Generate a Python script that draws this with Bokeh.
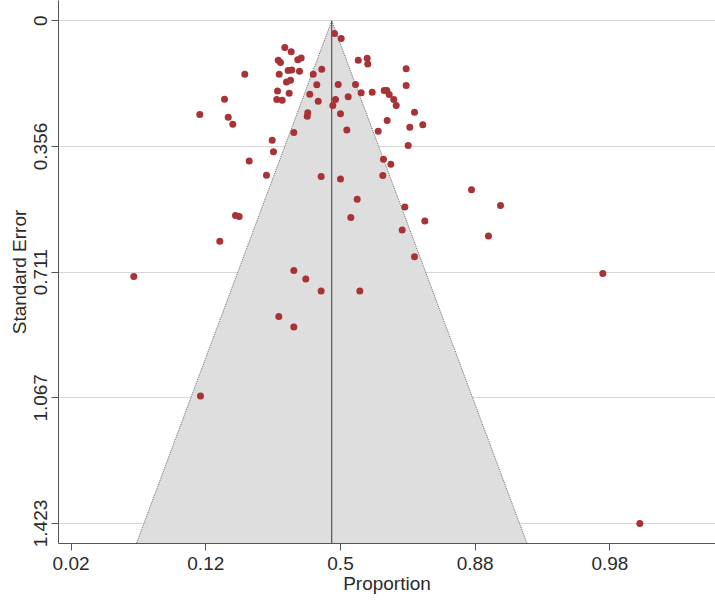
from bokeh.plotting import figure
from bokeh.models import Range1d, FixedTicker, ColumnDataSource
from bokeh.embed import file_html
from bokeh.resources import INLINE

# Study estimates (logit of proportion) and their standard errors
logit_prop = [
    -0.827, -0.732, -0.925, -0.891, -0.634, -0.584, -1.421, -0.910, -0.777, -0.723,
    -0.609, -0.405, -0.278, -0.802, -0.742, -0.352, -1.722, -0.935, -0.762, -0.456,
    -0.946, -0.866, -0.331, -2.089, -1.667, -1.599, -0.486, -0.494, -0.693, -0.089,
    0.010, 0.263, 0.396, 0.405, 0.975, -0.034, 0.223, 0.975, -0.074, 0.114,
    0.307, 0.471, 0.649, 0.687, 0.723, 0.791, 0.827, -0.114, 0.000, 1.099,
    0.693, 1.029, 1.222, 0.094, 0.560, -1.014, -0.995, -1.356, -1.099, -0.287,
    -1.559, -1.504, -1.792, 1.005, 0.638, 0.747, 0.628, 0.000, 0.248, 0.153,
    0.955, 1.252, 0.916, 1.945, 2.376, 2.197, 1.099, 0.287, 3.895, -3.069,
    -0.693, -0.515, -0.287, -0.916, -0.693, -2.079, 4.444,
]
std_err = [
    0.0755, 0.0877, 0.1115, 0.118, 0.110, 0.105, 0.151, 0.151, 0.141, 0.139,
    0.143, 0.151, 0.137, 0.173, 0.168, 0.181, 0.222, 0.199, 0.205, 0.208,
    0.223, 0.225, 0.228, 0.265, 0.273, 0.293, 0.260, 0.270, 0.316, 0.036,
    0.050, 0.112, 0.106, 0.122, 0.136, 0.180, 0.180, 0.183, 0.223, 0.215,
    0.204, 0.202, 0.197, 0.197, 0.209, 0.223, 0.240, 0.240, 0.263, 0.259,
    0.282, 0.301, 0.294, 0.309, 0.313, 0.338, 0.371, 0.397, 0.437, 0.441,
    0.551, 0.554, 0.624, 0.353, 0.392, 0.406, 0.438, 0.448, 0.505, 0.557,
    0.527, 0.567, 0.592, 0.478, 0.523, 0.609, 0.668, 0.765, 0.715, 0.724,
    0.707, 0.731, 0.765, 0.837, 0.867, 1.062, 1.423,
]

pooled_logit = -0.13  # summary estimate (centre line)

x_tick_values = [-4, -2, 0, 2, 4]
x_tick_labels = ["0.02", "0.12", "0.5", "0.88", "0.98"]
y_tick_values = [0.0, 0.3557, 0.7115, 1.0672, 1.4229]
y_tick_labels = ["0", "0.356", "0.711", "1.067", "1.423"]

X_LO, X_HI = -4.187, 5.568
Y_BOTTOM, Y_TOP = 1.4795, -0.0574
FUNNEL_SE = 1.6

FONT = "Liberation Sans"
FONT_SIZE = "19px"
TEXT_COL = "#2B2B2B"
AXIS_COL = "#555555"

p = figure(
    width=715, height=600,
    output_backend="svg", toolbar_location=None,
    x_range=Range1d(X_LO, X_HI), y_range=Range1d(Y_BOTTOM, Y_TOP),
    min_border_left=58, min_border_right=0, min_border_top=0, min_border_bottom=57,
)
p.outline_line_color = None
p.background_fill_color = "white"

# funnel
z = 1.96
fx = [pooled_logit - z * FUNNEL_SE, pooled_logit, pooled_logit + z * FUNNEL_SE]
fy = [FUNNEL_SE, 0.0, FUNNEL_SE]
p.patch(fx, fy, fill_color="#DEDEDE", line_color=None)
p.line(fx, fy, line_color="#6A6A6A", line_width=1, line_dash="1 1")
p.segment(x0=[pooled_logit], y0=[0.0], x1=[pooled_logit], y1=[FUNNEL_SE],
          line_color="#3A3A3A", line_width=1)

src = ColumnDataSource(dict(x=logit_prop, y=std_err))
p.scatter("x", "y", source=src, size=7, fill_color="#A83236", line_color=None)

# axes
p.xaxis.ticker = FixedTicker(ticks=x_tick_values)
p.xaxis.major_label_overrides = {v: l for v, l in zip(x_tick_values, x_tick_labels)}
p.yaxis.ticker = FixedTicker(ticks=y_tick_values)
p.yaxis.major_label_overrides = {v: l for v, l in zip(y_tick_values, y_tick_labels)}
p.yaxis.major_label_orientation = "vertical"

p.xaxis.axis_label = "Proportion"
p.yaxis.axis_label = "Standard Error"

for ax in (p.xaxis, p.yaxis):
    ax.axis_line_color = AXIS_COL
    ax.major_tick_line_color = AXIS_COL
    ax.minor_tick_line_color = None
    ax.major_tick_in = 0
    ax.major_tick_out = 7
    ax.major_label_text_font = FONT
    ax.major_label_text_font_size = FONT_SIZE
    ax.major_label_text_color = TEXT_COL
    ax.axis_label_text_font = FONT
    ax.axis_label_text_font_size = FONT_SIZE
    ax.axis_label_text_font_style = "normal"
    ax.axis_label_text_color = TEXT_COL

p.xaxis.major_label_standoff = 6
p.xaxis.axis_label_standoff = 0
p.yaxis.major_label_standoff = 4
p.yaxis.axis_label_standoff = 2

p.xgrid.visible = False
p.ygrid.grid_line_color = "#D6D6D6"
p.ygrid.grid_line_width = 1

open("out.html", "w").write(file_html(p, INLINE))
